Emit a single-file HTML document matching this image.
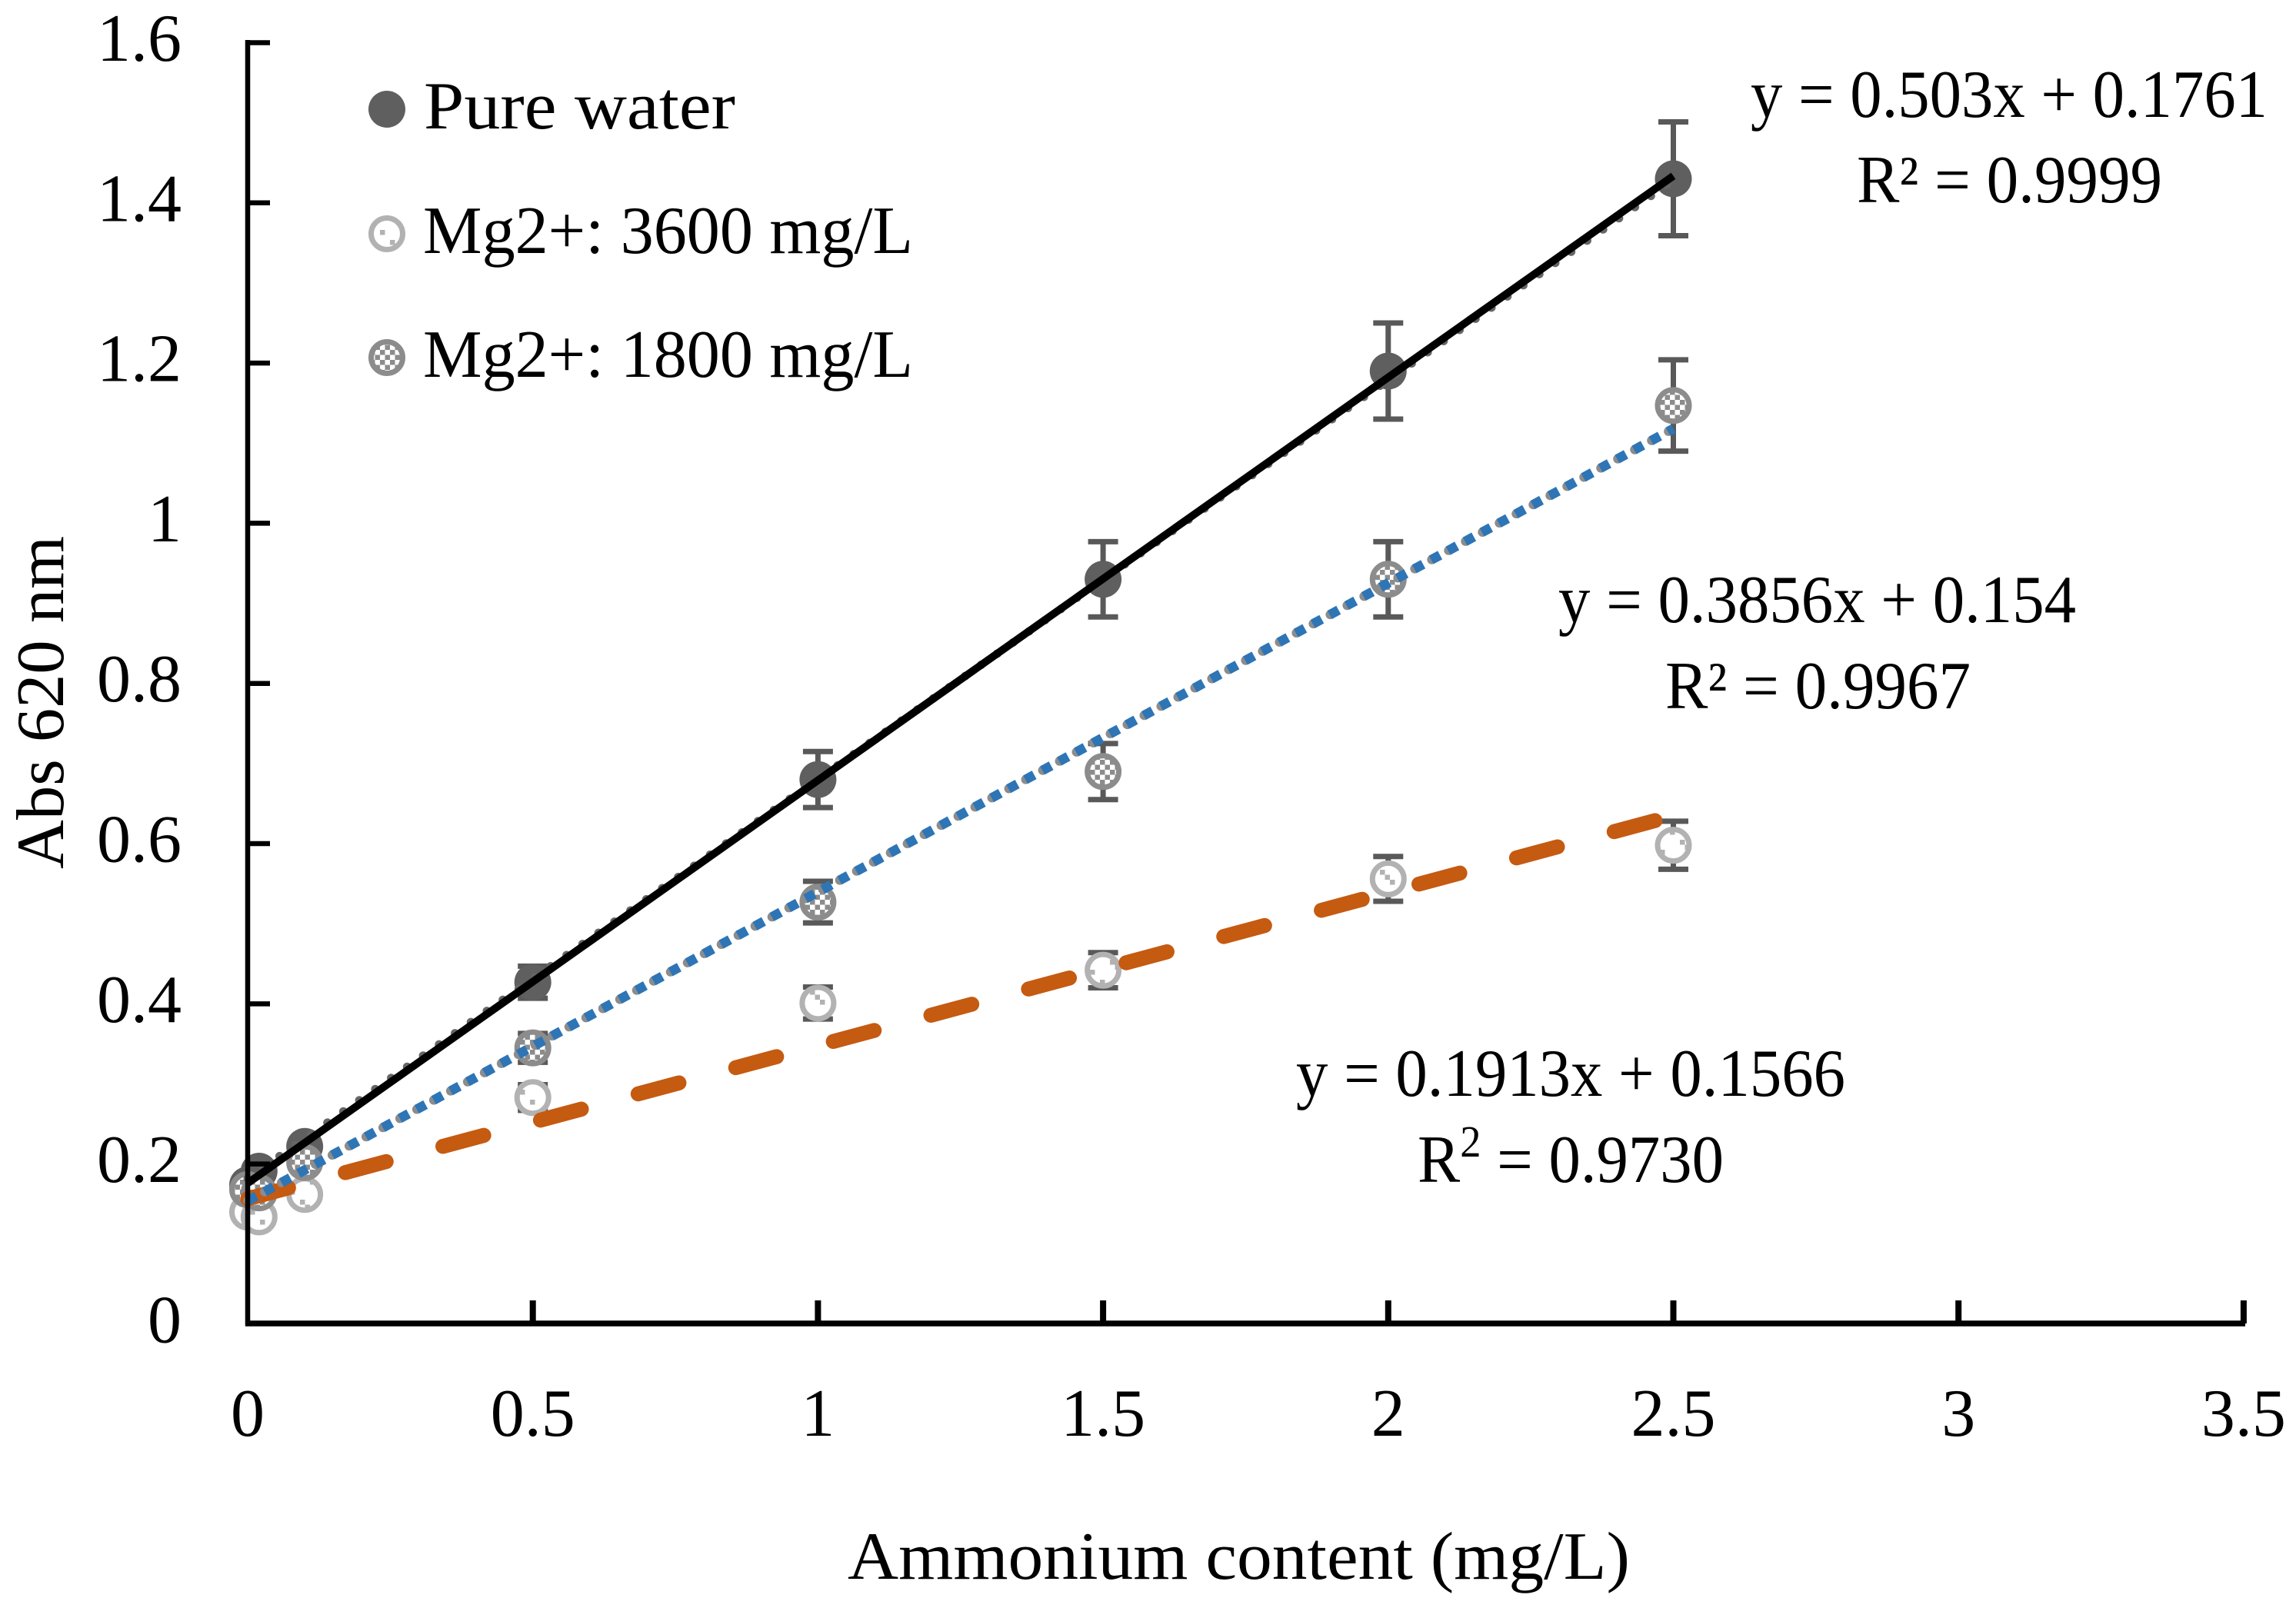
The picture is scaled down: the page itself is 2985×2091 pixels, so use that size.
<!DOCTYPE html>
<html lang="en">
<head>
<meta charset="utf-8">
<title>Abs 620 nm vs ammonium content</title>
<style>
html,body{margin:0;padding:0;background:#fff;width:2985px;height:2091px;overflow:hidden}
svg{display:block}
text{font-family:"Liberation Serif",serif;fill:#000;font-size:88px}
</style>
</head>
<body>
<svg id="chart" xmlns="http://www.w3.org/2000/svg" width="2985" height="2091" viewBox="0 0 2985 2091">
  <defs>
    <pattern id="check-1800" patternUnits="userSpaceOnUse" width="13" height="13">
      <rect width="13" height="13" fill="#fff"/>
      <rect x="0" y="0" width="6.5" height="6.5" fill="#8c8c8c"/>
      <rect x="6.5" y="6.5" width="6.5" height="6.5" fill="#8c8c8c"/>
    </pattern>
    <pattern id="check-3600" patternUnits="userSpaceOnUse" width="39" height="39">
      <rect width="39" height="39" fill="#fff"/>
      <rect x="0" y="0" width="6.5" height="6.5" fill="#b2b2b2"/>
      <rect x="6.5" y="6.5" width="6.5" height="6.5" fill="#b2b2b2"/>
      <rect x="13" y="13" width="6.5" height="6.5" fill="#b2b2b2"/>
      <rect x="26" y="26" width="6.5" height="6.5" fill="#b2b2b2"/>
    </pattern>
  </defs>
  <rect width="2985" height="2091" fill="#fff"/>
  <g id="error-bars"></g>
  <g id="markers"></g>
  <g id="trendlines"></g>
  <g id="axes"></g>

  <text transform="translate(82 1130) rotate(-90)" textLength="433" lengthAdjust="spacingAndGlyphs">Abs 620 nm</text>
  <text font-size="90" x="1102" y="2053" textLength="1017" lengthAdjust="spacingAndGlyphs">Ammonium content (mg/L)</text>

  <g>
    <g>
      <circle cx="503" cy="142" r="24" fill="#5f5f5f"/>
      <text font-size="90" x="551" y="167" textLength="405" lengthAdjust="spacingAndGlyphs">Pure water</text>
    </g>
    <g>
      <circle cx="503" cy="304" r="20.5" fill="url(#check-3600)" stroke="#b2b2b2" stroke-width="7"/>
      <text font-size="90" x="550" y="329" textLength="637" lengthAdjust="spacingAndGlyphs">Mg2+: 3600 mg/L</text>
    </g>
    <g>
      <circle cx="503" cy="465" r="20.5" fill="url(#check-1800)" stroke="#8c8c8c" stroke-width="7"/>
      <text font-size="90" x="550" y="490" textLength="637" lengthAdjust="spacingAndGlyphs">Mg2+: 1800 mg/L</text>
    </g>
  </g>

  <g>
    <text x="2276" y="152" textLength="672" lengthAdjust="spacingAndGlyphs">y = 0.503x + 0.1761</text>
    <text x="2414" y="263" textLength="397" lengthAdjust="spacingAndGlyphs">R² = 0.9999</text>
  </g>
  <g>
    <text x="2026" y="809" textLength="673" lengthAdjust="spacingAndGlyphs">y = 0.3856x + 0.154</text>
    <text x="2165" y="921" textLength="397" lengthAdjust="spacingAndGlyphs">R² = 0.9967</text>
  </g>
  <g>
    <text x="1685" y="1425" textLength="714" lengthAdjust="spacingAndGlyphs">y = 0.1913x + 0.1566</text>
    <text x="1843" y="1537" textLength="398" lengthAdjust="spacingAndGlyphs">R<tspan font-size="58" dy="-33">2</tspan><tspan dy="33"> = 0.9730</tspan></text>
  </g>
</svg>
<script>
var xValues = [0, 0.02, 0.1, 0.5, 1, 1.5, 2, 2.5];
var pureWater = [0.174, 0.191, 0.222, 0.427, 0.68, 0.93, 1.19, 1.43];
var pureWaterErr = [0.004, 0.005, 0.006, 0.02, 0.035, 0.047, 0.06, 0.071];
var mg3600 = [0.14, 0.134, 0.162, 0.283, 0.401, 0.442, 0.556, 0.598];
var mg3600Err = [0.004, 0.004, 0.005, 0.016, 0.02, 0.022, 0.028, 0.03];
var mg1800 = [0.168, 0.164, 0.202, 0.345, 0.527, 0.69, 0.93, 1.147];
var mg1800Err = [0.004, 0.004, 0.006, 0.018, 0.026, 0.035, 0.047, 0.057];
var fitPureWater = [0.503, 0.1761];
var fitPureWaterDotted = [0.4985, 0.182];
var fitMg1800 = [0.3856, 0.154];
var fitMg3600 = [0.1913, 0.1566];
var fitXRange = [0, 2.5];
var xTicks = [0, 0.5, 1, 1.5, 2, 2.5, 3, 3.5];
var yTicks = [0, 0.2, 0.4, 0.6, 0.8, 1, 1.2, 1.4, 1.6];

var NS = 'http://www.w3.org/2000/svg';
function xScale(v) { return 322 + 741.4 * v; }
function yScale(v) { return 1722 - 1041.6 * v; }
function make(parent, tag, attrs) {
  var el = document.createElementNS(NS, tag);
  for (var k in attrs) el.setAttribute(k, attrs[k]);
  parent.appendChild(el);
  return el;
}

var barsG = document.getElementById('error-bars');
var markersG = document.getElementById('markers');
var trendG = document.getElementById('trendlines');
var axesG = document.getElementById('axes');

function drawBars(values, errs, key) {
  values.forEach(function (v, i) {
    if (errs[i] < 0.01) return;
    var x = xScale(xValues[i]), hi = yScale(v + errs[i]), lo = yScale(v - errs[i]);
    var el = make(barsG, 'path', {
      d: 'M' + x + ' ' + hi + 'V' + lo + 'M' + (x - 19.5) + ' ' + hi + 'H' + (x + 19.5) + 'M' + (x - 19.5) + ' ' + lo + 'H' + (x + 19.5),
      fill: 'none', stroke: '#595959', 'stroke-width': 7
    });
    
    
  });
}
drawBars(pureWater, pureWaterErr, 'pure-water');
drawBars(mg3600, mg3600Err, 'mg-3600');
drawBars(mg1800, mg1800Err, 'mg-1800');

pureWater.forEach(function (v, i) {
  var el = make(markersG, 'circle', { cx: xScale(xValues[i]), cy: yScale(v), r: 24, fill: '#5f5f5f' });
  
  
});
mg3600.forEach(function (v, i) {
  var el = make(markersG, 'circle', { cx: xScale(xValues[i]), cy: yScale(v), r: 20.5, fill: 'url(#check-3600)', stroke: '#b2b2b2', 'stroke-width': 7 });
  
  
});
mg1800.forEach(function (v, i) {
  var el = make(markersG, 'circle', { cx: xScale(xValues[i]), cy: yScale(v), r: 20.5, fill: 'url(#check-1800)', stroke: '#8c8c8c', 'stroke-width': 7 });
  
  
});

function fitPoints(fit) {
  return {
    x1: xScale(fitXRange[0]), y1: yScale(fit[0] * fitXRange[0] + fit[1]),
    x2: xScale(fitXRange[1]), y2: yScale(fit[0] * fitXRange[1] + fit[1])
  };
}
function drawFit(fit, style, name) {
  var p = fitPoints(fit);
  for (var k in style) p[k] = style[k];
  var el = make(trendG, 'line', p);
  
  
  return el;
}
drawFit(fitMg3600, { stroke: '#c55a11', 'stroke-width': 19.5, 'stroke-linecap': 'round', 'stroke-dasharray': '55 76.4' }, 'trendline-mg-3600');
drawFit(fitPureWaterDotted, { stroke: '#666666', 'stroke-width': 11, 'stroke-linecap': 'round', 'stroke-dasharray': '0.01 25.3' }, 'trendline-pure-water-dotted');
drawFit(fitPureWater, { stroke: '#000', 'stroke-width': 10 }, 'trendline-pure-water');
drawFit(fitMg1800, { stroke: '#8c8c8c', 'stroke-width': 12, 'stroke-linecap': 'round', 'stroke-dasharray': '0.01 25' }, 'trendline-mg-1800-dotted');
drawFit(fitMg1800, { stroke: '#2e75b6', 'stroke-width': 12.5, 'stroke-dasharray': '13 12' }, 'trendline-mg-1800');

var yAxisEl = make(axesG, 'path', { d: 'M322 52V1724', fill: 'none', stroke: '#000', 'stroke-width': 6.5 });


var xAxisEl = make(axesG, 'path', { d: 'M319 1721H2919', fill: 'none', stroke: '#000', 'stroke-width': 7.5 });



xTicks.forEach(function (t) {
  var x = xScale(t);
  if (t > 0) {
    var tick = make(axesG, 'line', { x1: x, x2: x, y1: 1691, y2: 1721, stroke: '#000', 'stroke-width': 8 });
    
    
  }
  var label = make(axesG, 'text', { x: x, y: 1867, 'text-anchor': 'middle', 'font-size': 84 });
  
  
  label.textContent = String(t);
});
yTicks.forEach(function (t) {
  var y = yScale(t);
  if (t > 0) {
    var tick = make(axesG, 'line', { x1: 322, x2: 351, y1: y, y2: y, stroke: '#000', 'stroke-width': 6.5 });
    
    
  }
  var label = make(axesG, 'text', { x: 236, y: y + 23.5, 'text-anchor': 'end', 'font-size': 84 });
  
  
  label.textContent = String(t);
});
</script>
</body>
</html>
